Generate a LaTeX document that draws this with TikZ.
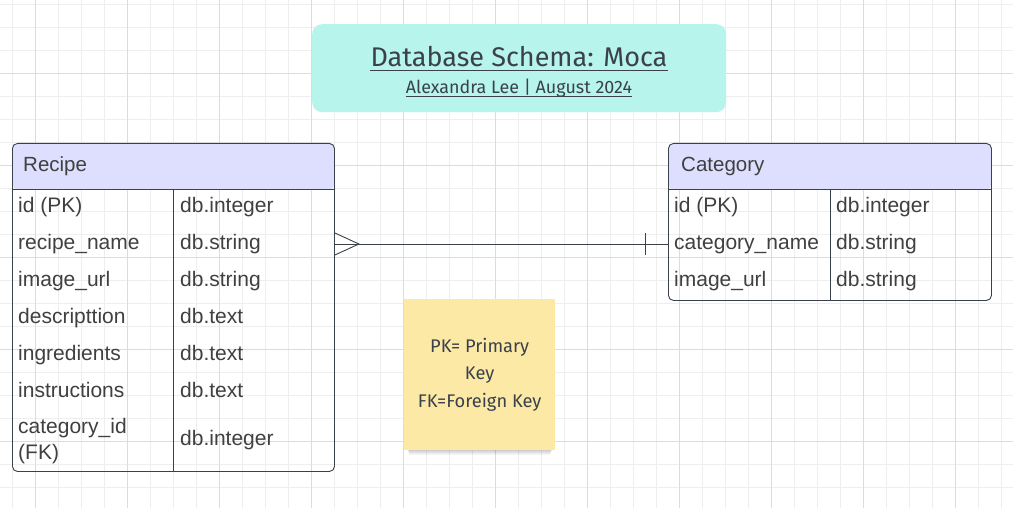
\documentclass[tikz,border=0pt]{standalone}
\usepackage{fontspec}
\setmainfont{Liberation Sans}
\newfontfamily\handfont{Fira Sans}
\usepackage{tikz}
\usetikzlibrary{positioning,calc}

\definecolor{inkgray}{HTML}{3A414A}
\definecolor{textgray}{HTML}{404040}
\definecolor{hdrblue}{HTML}{DEDEFF}
\definecolor{titlemint}{HTML}{B6F4EC}
\definecolor{noteyellow}{HTML}{FDE9A6}
\definecolor{gridminor}{HTML}{EEEEEE}
\definecolor{gridmajor}{HTML}{DCDCDC}

\tikzset{
  tbl/.style={draw=inkgray, line width=0.9pt, rounded corners=5pt, anchor=north west, inner sep=0pt,
    path picture={\fill[hdrblue] (path picture bounding box.north west) rectangle ([yshift=-46pt]path picture bounding box.north east);}},
  hdr/.style={anchor=base west, inner sep=0pt, font=\fontsize{20.5}{24}\selectfont, text=textgray},
  field/.style={anchor=base west, inner sep=0pt, font=\fontsize{21}{26}\selectfont, text=textgray, align=left},
  rel/.style={draw=inkgray, line width=0.9pt},
  handtext/.style={inner sep=0pt, text=inkgray},
  note/.style={fill=noteyellow, minimum size=151pt, anchor=north west, align=center, text=inkgray,
    font=\handfont\fontsize{18.3}{27.5}\selectfont},
}

\begin{document}
\begin{tikzpicture}[x=1pt, y=-1pt]
\useasboundingbox[fill=white] (0,0) rectangle (1013,508);
% background grid
\foreach \gx in {12.3,35.3,...,1013} \draw[gridminor, line width=0.8pt] (\gx,0) -- (\gx,508);
\foreach \gy in {4.3,27.3,...,508} \draw[gridminor, line width=0.8pt] (0,\gy) -- (1013,\gy);
\foreach \gx in {35.3,127.3,...,1013} \draw[gridmajor, line width=0.8pt] (\gx,0) -- (\gx,508);
\foreach \gy in {73.3,165.3,...,508} \draw[gridmajor, line width=0.8pt] (0,\gy) -- (1013,\gy);

% title banner
\node[fill=titlemint, rounded corners=10pt, minimum width=414pt, minimum height=88pt, anchor=north west] (banner) at (312,24) {};
\node[handtext, font=\handfont\fontsize{27}{30}\selectfont] (title) at (519,57) {Database Schema: Moca};
\node[handtext, font=\handfont\fontsize{17.9}{20}\selectfont] (subtitle) at (519,88) {Alexandra Lee \textbar{} August 2024};
\draw[inkgray, line width=0.8pt] ([yshift=-3pt]title.base west) -- ([yshift=-3pt]title.base east);
\draw[inkgray, line width=0.6pt] ([yshift=-2.5pt]subtitle.base west) -- ([yshift=-2.5pt]subtitle.base east);

% Recipe table
\node[tbl, minimum width=322pt, minimum height=328pt] (recipe) at (12,143) {};
\node[hdr] (recipe-hdr) at (23,171.5) {Recipe};
\draw[rel] ($(recipe.north west)+(0,46)$) -- ($(recipe.north east)+(0,46)$);
\draw[rel] ($(recipe.north west)+(161,46)$) -- ($(recipe.south west)+(161,0)$);
\foreach \fname/\ftype [count=\i] in {id (PK)/db.integer, recipe\_name/db.string, image\_url/db.string,
    descripttion/db.text, ingredients/db.text, instructions/db.text} {
  \node[field] (recipe-f\i) at (18,{212.5+37*(\i-1)}) {\fname};
  \node[field] (recipe-t\i) at (180,{212.5+37*(\i-1)}) {\ftype};
}
\node[field] (recipe-f7) at (18,459.5) {category\_id\\(FK)};
\node[field] (recipe-t7) at (180,445.5) {db.integer};

% Category table
\node[tbl, minimum width=323pt, minimum height=157pt] (category) at (668,143) {};
\node[hdr] (category-hdr) at (681,171.5) {Category};
\draw[rel] ($(category.north west)+(0,46)$) -- ($(category.north east)+(0,46)$);
\draw[rel] ($(category.north west)+(162,46)$) -- ($(category.south west)+(162,0)$);
\foreach \fname/\ftype [count=\i] in {id (PK)/db.integer, category\_name/db.string, image\_url/db.string} {
  \node[field] (category-f\i) at (674,{212.5+37*(\i-1)}) {\fname};
  \node[field] (category-t\i) at (836,{212.5+37*(\i-1)}) {\ftype};
}

% relation: many recipes -- one category
\coordinate (many) at ($(recipe.north east)+(0,101)$);
\coordinate (one) at ($(category.north west)+(0,101)$);
\draw[rel] (many) -- (one);
\draw[rel] ($(many)+(0,-11)$) -- ($(many)+(24,0)$) -- ($(many)+(0,11)$);
\draw[rel] ($(one)+(-23,-11)$) -- ($(one)+(-23,11)$);

% sticky note with soft shadow
\coordinate (note-pos) at (404,299);
\foreach \k in {1,...,6}
  \fill[black, opacity=0.04] ($(note-pos)+(2+\k/2,8)$) rectangle ($(note-pos)+(149-\k/2,150+\k)$);
\node[note] (note) at (note-pos) {PK= Primary\\Key\\FK=Foreign Key};
\end{tikzpicture}
\end{document}
